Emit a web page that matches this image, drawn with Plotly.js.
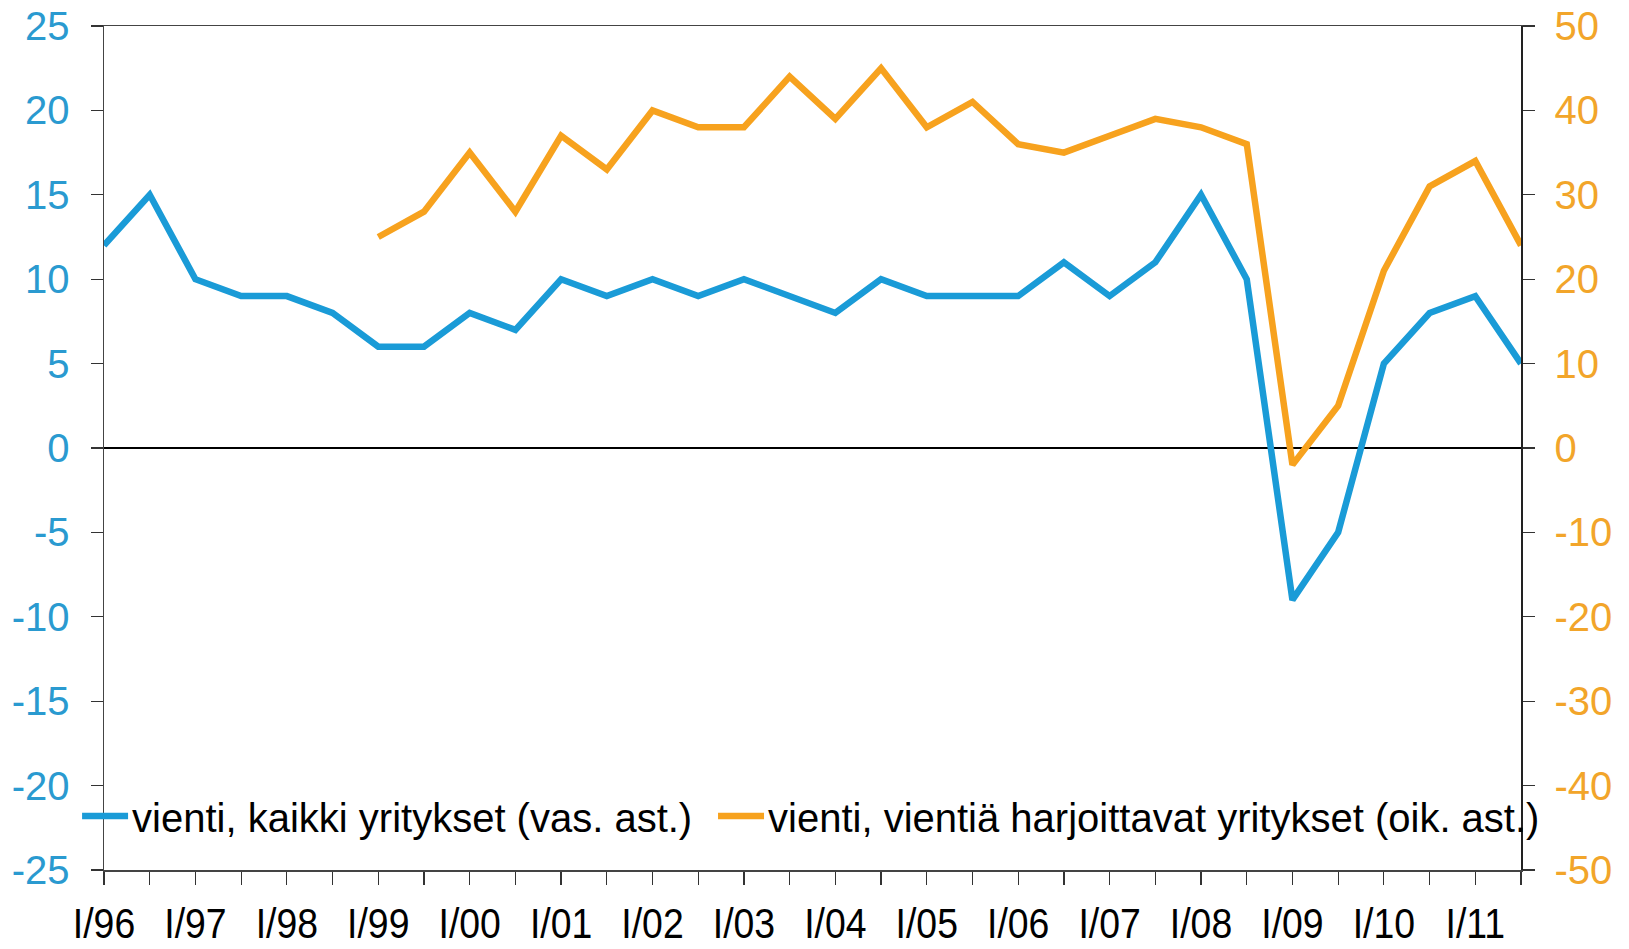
<!DOCTYPE html>
<html>
<head>
<meta charset="utf-8">
<script src="https://cdn.plot.ly/plotly-3.0.1.min.js"></script>
<style>
html,body{margin:0;padding:0;background:#fff;}
#chart{width:1629px;height:949px;}
</style>
</head>
<body>
<div id="chart"></div>
<script>
var categories = ["I/96","II/96","I/97","II/97","I/98","II/98","I/99","II/99","I/00","II/00",
  "I/01","II/01","I/02","II/02","I/03","II/03","I/04","II/04","I/05","II/05",
  "I/06","II/06","I/07","II/07","I/08","II/08","I/09","II/09","I/10","II/10","I/11","II/11"];
var tickLabels = ["I/96","","I/97","","I/98","","I/99","","I/00","",
  "I/01","","I/02","","I/03","","I/04","","I/05","","I/06","","I/07","",
  "I/08","","I/09","","I/10","","I/11",""];
var allFirms = [12,15,10,9,9,8,6,6,8,7,10,9,10,9,10,9,8,10,9,9,9,11,9,11,15,10,-9,-5,5,8,9,5];
var exportFirms = [null,null,null,null,null,null,25,28,35,28,37,33,40,38,38,44,39,45,38,41,36,35,37,39,38,36,-2,5,21,31,34,24];
var leftTicks = [-25,-20,-15,-10,-5,0,5,10,15,20,25];
var leftTickText = ["-25","-20","-15","-10","-5","0","5","10","15","20","25"];
var rightTicks = [-50,-40,-30,-20,-10,0,10,20,30,40,50];
var rightTickText = ["-50","-40","-30","-20","-10","0","10","20","30","40","50"];
var name1 = "vienti, kaikki yritykset (vas. ast.)";
var name2 = "vienti, vientiä harjoittavat yritykset (oik. ast.)";

var blue = "#1A9BD7";
var orange = "#F7A21E";
var sans = "'Liberation Sans', Arial, sans-serif";

var traces = [
  {x: categories, y: allFirms, name: name1, type: "scatter", mode: "lines",
   line: {color: blue, width: 6.5}, yaxis: "y", legend: "legend"},
  {x: categories, y: exportFirms, name: name2, type: "scatter", mode: "lines",
   line: {color: orange, width: 6.5}, yaxis: "y2", connectgaps: false, legend: "legend2"}
];

var legendBase = {orientation: "h", xanchor: "left", y: 0.064, yanchor: "middle",
  font: {family: sans, size: 40, color: "#000"}, bgcolor: "rgba(0,0,0,0)", itemwidth: 45};

var layout = {
  width: 1629, height: 949,
  margin: {l: 104, r: 108, t: 26, b: 79},
  paper_bgcolor: "#fff", plot_bgcolor: "#fff",
  showlegend: true,
  legend: Object.assign({}, legendBase, {x: -0.019}),
  legend2: Object.assign({}, legendBase, {x: 0.4298}),
  xaxis: {type: "category", range: [0, 31], tickvals: categories, ticktext: tickLabels,
    showgrid: false, zeroline: false, showline: true, linecolor: "#444", linewidth: 1.5,
    mirror: true, ticks: "outside", ticklen: 13, tickwidth: 1.2, tickcolor: "#333",
    ticklabelstandoff: 3,
    tickfont: {family: sans, size: 42, color: "#000"}, tickangle: 0},
  yaxis: {range: [-25, 25], tickvals: leftTicks, ticktext: leftTickText, showgrid: false, zeroline: true,
    zerolinecolor: "#000", zerolinewidth: 1.3, showline: true, linecolor: "#444", linewidth: 1.5,
    ticks: "outside", ticklen: 12, tickwidth: 1.2, tickcolor: "#333", ticklabelstandoff: 13,
    tickfont: {family: sans, size: 40, color: "#2A9AD0"}},
  yaxis2: {range: [-50, 50], tickvals: rightTicks, ticktext: rightTickText, overlaying: "y", side: "right",
    showgrid: false, zeroline: false, showline: true, linecolor: "#222", linewidth: 1.5,
    ticks: "outside", ticklen: 12, tickwidth: 1.2, tickcolor: "#333", ticklabelstandoff: 12,
    tickfont: {family: sans, size: 40, color: "#F2A52A"}}
};

Plotly.newPlot("chart", traces, layout, {displayModeBar: false, staticPlot: true}).then(function (gd) {
  // condense the x tick labels horizontally like the original's narrow lettering
  gd.querySelectorAll(".xtick text").forEach(function (t) {
    var x = parseFloat(t.getAttribute("x")) || 0;
    var tr = t.getAttribute("transform") || "";
    t.setAttribute("transform", tr + " translate(" + x + ",0) scale(0.89,1) translate(" + (-x) + ",0)");
  });
  // longer legend line samples
  gd.querySelectorAll(".legendlines path").forEach(function (p) {
    p.setAttribute("d", "M5,0h46");
  });
});
</script>
</body>
</html>
